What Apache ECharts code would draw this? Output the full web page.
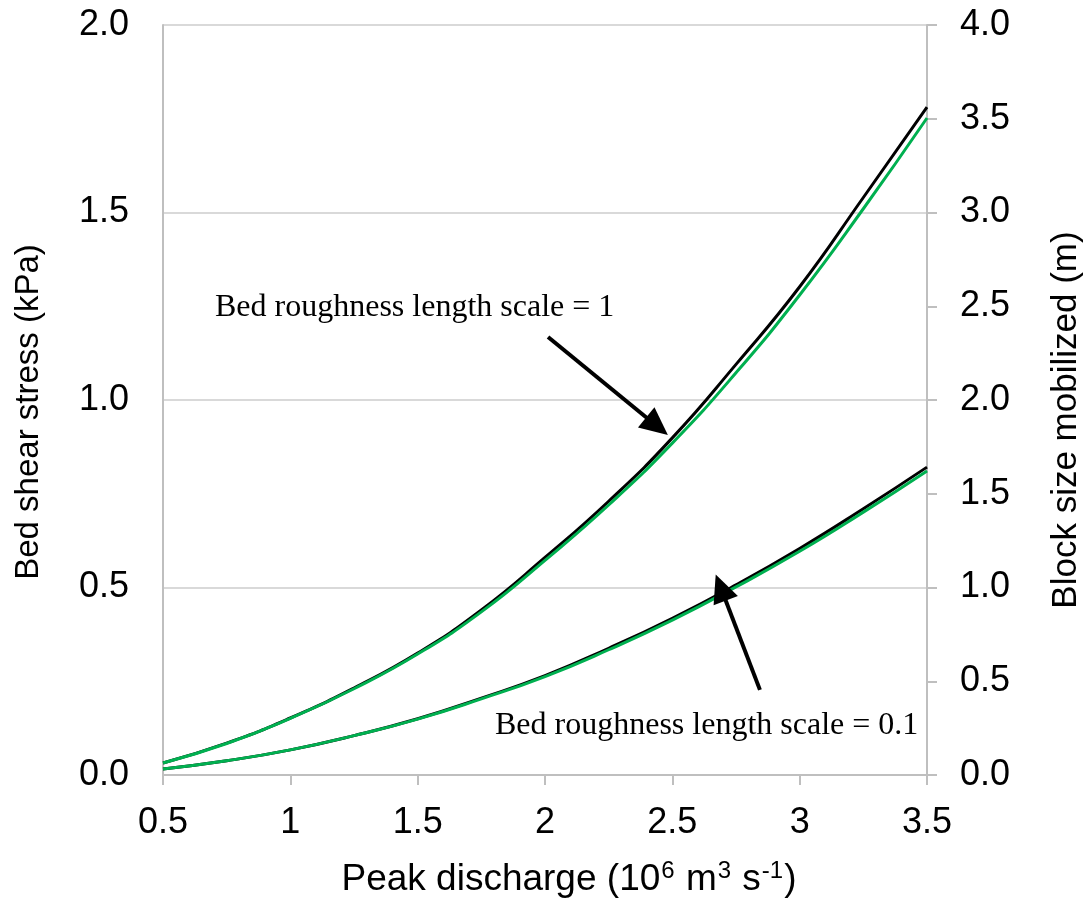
<!DOCTYPE html>
<html lang="en">
<head>
    <meta charset="UTF-8">
    <title>Bed shear stress</title>
    <script src="https://cdn.jsdelivr.net/npm/echarts@6/dist/echarts.min.js"></script>
    <style>
        body { margin: 0; background: #fff; }
    </style>
</head>
<body>
<div id="chartmain" style="width: 1089px; height: 924px;"></div>
<script type="text/javascript">
    // peak discharge (10^6 m3/s)
    var discharge = [0.5, 0.75, 1.0, 1.25, 1.5, 1.75, 2.0, 2.25, 2.5, 2.75, 3.0, 3.25, 3.5];
    // bed shear stress (kPa), left axis
    var stressK1 = [0.032, 0.085, 0.152, 0.232, 0.325, 0.440, 0.580, 0.730, 0.899, 1.095, 1.302, 1.540, 1.781];
    var stressK01 = [0.016, 0.038, 0.067, 0.105, 0.150, 0.205, 0.265, 0.338, 0.418, 0.507, 0.604, 0.710, 0.821];
    // block size mobilized (m), right axis
    var blockK1 = [0.064, 0.168, 0.302, 0.460, 0.645, 0.870, 1.145, 1.440, 1.770, 2.145, 2.560, 3.020, 3.504];
    var blockK01 = [0.032, 0.076, 0.134, 0.210, 0.298, 0.406, 0.525, 0.668, 0.826, 1.003, 1.193, 1.402, 1.622];

    function pairs(xs, ys) {
        var out = [];
        for (var i = 0; i < xs.length; i++) {
            out.push([xs[i], ys[i]]);
        }
        return out;
    }

    var axisColor = '#bfbfbf';
    var gridColor = '#d9d9d9';
    var sans = 'Liberation Sans, Arial, sans-serif';
    var serif = 'Liberation Serif, Times New Roman, serif';
    var labelFont = { color: '#000', fontSize: 36, fontFamily: sans };

    var arrowStyle = {
        silent: true,
        symbol: ['none', 'triangle'],
        symbolSize: [26, 28],
        label: { show: false },
        lineStyle: { color: '#000', width: 4, type: 'solid' },
        emphasis: { disabled: true }
    };

    var myChart = echarts.init(document.getElementById('chartmain'));
    var option = {
        animation: false,
        grid: { left: 163, right: 162, top: 25, bottom: 149, outerBoundsMode: 'none', containLabel: false },
        xAxis: {
            type: 'value',
            min: 0.5,
            max: 3.5,
            interval: 0.5,
            name: '{a|Peak discharge (10}{s|6}{a| m}{s|3}{a| s}{s|-1}{a|)}',
            nameLocation: 'middle',
            nameGap: 84,
            nameTextStyle: {
                color: '#000',
                fontFamily: sans,
                padding: [0, 0, 0, 48],
                rich: {
                    a: { fontSize: 37, fontFamily: sans, color: '#000', lineHeight: 42 },
                    s: { fontSize: 24, fontFamily: sans, color: '#000', verticalAlign: 'top', lineHeight: 42, padding: [0, 1, 14, 1] }
                }
            },
            axisLine: { show: true, lineStyle: { color: axisColor, width: 2 } },
            axisTick: { show: true, length: 10, lineStyle: { color: axisColor, width: 2 } },
            axisLabel: Object.assign({ margin: 30 }, labelFont),
            splitLine: { show: false }
        },
        yAxis: [{
            type: 'value',
            min: 0,
            max: 2,
            interval: 0.5,
            position: 'left',
            name: 'Bed shear stress (kPa)',
            nameLocation: 'middle',
            nameGap: 118,
            nameTextStyle: { color: '#000', fontSize: 33, fontFamily: sans, padding: [0, 24, 0, 0] },
            axisLine: { show: true, lineStyle: { color: axisColor, width: 2 } },
            axisTick: { show: false },
            axisLabel: Object.assign({ margin: 34, formatter: function (v) { return v.toFixed(1); } }, labelFont),
            splitLine: { show: true, lineStyle: { color: gridColor, width: 2 } }
        }, {
            type: 'value',
            min: 0,
            max: 4,
            interval: 0.5,
            position: 'right',
            name: 'Block size mobilized (m)',
            nameLocation: 'middle',
            nameRotate: 90,
            nameGap: 122,
            nameTextStyle: { color: '#000', fontSize: 35, fontFamily: sans, padding: [0, 40, 0, 0] },
            axisLine: { show: true, lineStyle: { color: axisColor, width: 2 } },
            axisTick: { show: true, length: 10, lineStyle: { color: axisColor, width: 2 } },
            axisLabel: Object.assign({ margin: 33, formatter: function (v) { return v.toFixed(1); } }, labelFont),
            splitLine: { show: false }
        }],
        series: [{
            name: 'stress k=1',
            type: 'line',
            yAxisIndex: 0,
            smooth: true,
            showSymbol: false,
            data: pairs(discharge, stressK1),
            lineStyle: { color: '#000', width: 3 },
            markLine: Object.assign({
                data: [[{ coord: [2.012, 1.168] }, { coord: [2.44, 0.93] }]]
            }, arrowStyle)
        }, {
            name: 'stress k=0.1',
            type: 'line',
            yAxisIndex: 0,
            smooth: true,
            showSymbol: false,
            data: pairs(discharge, stressK01),
            lineStyle: { color: '#000', width: 3 },
            markLine: Object.assign({
                data: [[{ coord: [2.844, 0.227] }, { coord: [2.69, 0.5] }]]
            }, arrowStyle)
        }, {
            name: 'block k=1',
            type: 'line',
            yAxisIndex: 1,
            smooth: true,
            showSymbol: false,
            data: pairs(discharge, blockK1),
            lineStyle: { color: '#00b050', width: 3 }
        }, {
            name: 'block k=0.1',
            type: 'line',
            yAxisIndex: 1,
            smooth: true,
            showSymbol: false,
            data: pairs(discharge, blockK01),
            lineStyle: { color: '#00b050', width: 3 }
        }],
        graphic: [{
            type: 'text',
            left: 215,
            top: 292,
            style: { text: 'Bed roughness length scale = 1', fontSize: 32, fontFamily: serif, fill: '#000' }
        }, {
            type: 'text',
            left: 495,
            top: 710,
            style: { text: 'Bed roughness length scale = 0.1', fontSize: 32, fontFamily: serif, fill: '#000' }
        }]
    };
    myChart.setOption(option);
</script>
</body>
</html>
